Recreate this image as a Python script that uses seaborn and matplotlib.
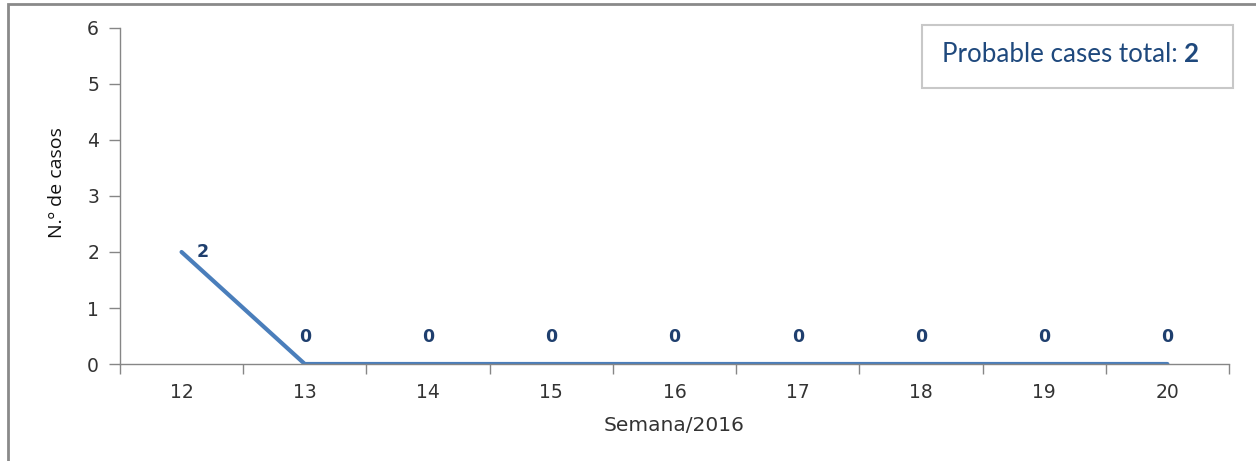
import matplotlib
matplotlib.use("Agg")
import matplotlib.pyplot as plt
from matplotlib.patches import Rectangle
from matplotlib.ticker import FixedLocator
import pandas as pd
import seaborn as sns

weeks = ["12", "13", "14", "15", "16", "17", "18", "19", "20"]
cases = [2, 0, 0, 0, 0, 0, 0, 0, 0]
total_cases = 2

sns.set_style("white")
plt.rcParams['font.family'] = ['DejaVu Sans']

df = pd.DataFrame({"semana": weeks, "casos": cases})

fig = plt.figure(figsize=(12.56, 4.61), dpi=100)
ax = fig.add_axes([0.0955, 0.2104, 0.883, 0.7289])

sns.lineplot(data=df, x="semana", y="casos", color="#4a7ebb", linewidth=3, ax=ax)

# data labels
for i, v in enumerate(cases):
    if v > 0:
        off = (15, 0)
    else:
        off = (0, 19.5)
    ax.annotate(str(v), (i, v), xytext=off, textcoords="offset points",
                ha="center", va="center", fontsize=12.5, fontweight="bold",
                color="#1f3f6e")

ax.set_xlim(-0.5, len(weeks) - 0.5)
ax.set_ylim(0, 6)
ax.set_yticks(range(0, 7))
ax.xaxis.set_minor_locator(FixedLocator([i - 0.5 for i in range(len(weeks) + 1)]))
ax.tick_params(axis="x", which="major", length=0, pad=14, labelsize=13.5, labelcolor="#333333")
ax.tick_params(axis="x", which="minor", length=7, width=1, color="#868686", direction="out", bottom=True)
ax.tick_params(axis="y", length=8, width=1, color="#868686", direction="out", left=True,
               pad=7, labelsize=13.5, labelcolor="#333333")

for s in ["top", "right"]:
    ax.spines[s].set_visible(False)
for s in ["left", "bottom"]:
    ax.spines[s].set_color("#868686")
    ax.spines[s].set_linewidth(1)

ax.set_xlabel("Semana/2016", fontsize=14.5, color="#333333")
ax.xaxis.set_label_coords(0.5, -0.155)
ax.set_ylabel("N.º de casos", fontsize=14, color="#111111", family=["Open Sans", "DejaVu Sans"])
ax.yaxis.set_label_coords(-0.049, 0.54)
ax.grid(False)

# total box
fig.add_artist(Rectangle((922 / 1256, 1 - 88 / 461), 311 / 1256, 63 / 461,
                         transform=fig.transFigure, fill=False,
                         edgecolor="#c8c8c8", linewidth=1.5))
box_y = 1 - 62 / 461
t1 = fig.text(942 / 1256, box_y, "Probable cases total: ", fontsize=18.7,
              color="#1f497d", family=["Lato", "DejaVu Sans"], va="baseline")
fig.canvas.draw()
x_end = fig.transFigure.inverted().transform(
    (t1.get_window_extent().x1, 0))[0]
fig.text(x_end, box_y, str(total_cases), fontsize=18.7, fontweight="bold",
         color="#1f497d", family=["Lato", "DejaVu Sans"], va="baseline")

# outer chart frame (top and left edges)
fig.add_artist(Rectangle((8 / 1256, -0.1), 1.2, 1 - 4 / 461 + 0.1,
                         transform=fig.transFigure, fill=False,
                         edgecolor="#8a8a8a", linewidth=2))

fig.savefig("out.png", dpi=100)
